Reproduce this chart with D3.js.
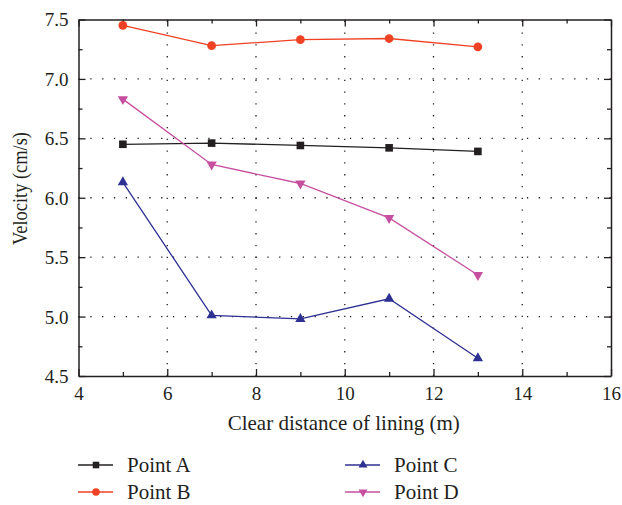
<!DOCTYPE html>
<html>
<head>
<meta charset="utf-8">
<script src="https://cdn.jsdelivr.net/npm/d3@7"></script>
<style>
  html, body { margin: 0; padding: 0; background: #fff; }
  svg { display: block; }
</style>
</head>
<body>
<svg id="chart" width="622" height="505"></svg>
<script>
// Clear distance of lining (m)
const distances = [5, 7, 9, 11, 13];

// Velocity (cm/s) at each monitoring point
const pointA = [6.45, 6.46, 6.44, 6.42, 6.39];
const pointB = [7.45, 7.28, 7.33, 7.34, 7.27];
const pointC = [6.13, 5.01, 4.98, 5.15, 4.65];
const pointD = [6.83, 6.28, 6.12, 5.83, 5.35];

const seriesNames = ["Point A", "Point B", "Point C", "Point D"];
const xTicks = [4, 6, 8, 10, 12, 14, 16];
const yTicks = [4.5, 5.0, 5.5, 6.0, 6.5, 7.0, 7.5];

const FONT = '"Liberation Serif", "Times New Roman", serif';
const INK = "#231f20";

const series = [
  { name: seriesNames[0], values: pointA, color: "#231f20", symbol: d3.symbolSquare, size: 58, rot: 0 },
  { name: seriesNames[1], values: pointB, color: "#ef4123", symbol: d3.symbolCircle, size: 60, rot: 0 },
  { name: seriesNames[2], values: pointC, color: "#2e3192", symbol: d3.symbolTriangle, size: 46, rot: 0 },
  { name: seriesNames[3], values: pointD, color: "#c6509f", symbol: d3.symbolTriangle, size: 46, rot: 180 }
];

const svg = d3.select("#chart").attr("font-family", FONT);
const plot = { left: 78.5, right: 611, top: 19.5, bottom: 376 };

const x = d3.scaleLinear().domain([4, 16]).range([plot.left, plot.right]);
const y = d3.scaleLinear().domain([4.5, 7.5]).range([plot.bottom, plot.top]);

// Dotted grid at major ticks
const grid = svg.append("g").attr("stroke", INK).attr("stroke-width", 1.3)
  .attr("stroke-dasharray", "1.3 10.5");
xTicks.slice(1, -1).forEach(t => {
  grid.append("line").attr("x1", x(t)).attr("x2", x(t))
    .attr("y1", plot.bottom).attr("y2", plot.top);
});
yTicks.slice(1, -1).forEach(t => {
  grid.append("line").attr("x1", plot.left).attr("x2", plot.right)
    .attr("y1", y(t)).attr("y2", y(t));
});

// Frame axes, ticks pointing inward on all four sides
const xMinor = d3.range(5, 16, 2);
const yMinor = d3.range(4.75, 7.5, 0.5);

function addAxis(axisFn, scale, ticks, minor, transform, labels) {
  const g = svg.append("g").attr("transform", transform);
  g.call(axisFn(scale).tickValues(ticks).tickSizeInner(-7).tickSizeOuter(0)
    .tickFormat(labels ? (d => labels(d)) : ""));
  g.append("g").call(axisFn(scale).tickValues(minor).tickSizeInner(-4).tickSizeOuter(0).tickFormat(""))
    .select(".domain").remove();
  g.attr("font-family", FONT);
  g.selectAll("g").attr("font-family", FONT);
  g.selectAll("line").attr("stroke", INK).attr("stroke-width", 1.3);
  g.selectAll(".domain").attr("stroke", INK).attr("stroke-width", 1.5);
  g.selectAll("text").style("font-family", FONT).style("font-size", "19px").attr("fill", INK);
  return g;
}

const gx = addAxis(d3.axisBottom, x, xTicks, xMinor, `translate(0,${plot.bottom})`, d => d3.format("d")(d));
gx.selectAll(".tick text").attr("y", 24).attr("dy", 0);
addAxis(d3.axisTop, x, xTicks, xMinor, `translate(0,${plot.top})`, null);
const gy = addAxis(d3.axisLeft, y, yTicks, yMinor, `translate(${plot.left},0)`, d => d3.format(".1f")(d));
gy.selectAll(".tick text").attr("x", -10).attr("dy", "0.34em");
addAxis(d3.axisRight, y, yTicks, yMinor, `translate(${plot.right},0)`, null);

// Axis titles
svg.append("text").attr("x", (plot.left + plot.right) / 2 - 1).attr("y", 430)
  .attr("text-anchor", "middle").style("font-family", FONT).style("font-size", "21px").attr("fill", INK)
  .text("Clear distance of lining (m)");
svg.append("text")
  .attr("transform", `translate(27,188.5) rotate(-90)`)
  .attr("text-anchor", "middle").style("font-family", FONT).style("font-size", "20px").attr("fill", INK)
  .attr("textLength", 113).attr("lengthAdjust", "spacingAndGlyphs")
  .text("Velocity (cm/s)");

// Series lines and markers
const line = d3.line().x((d, i) => x(distances[i])).y(d => y(d));
series.forEach(s => {
  svg.append("path").datum(s.values).attr("d", line)
    .attr("fill", "none").attr("stroke", s.color).attr("stroke-width", 1.3);
  svg.append("g").selectAll("path").data(s.values).join("path")
    .attr("d", d3.symbol().type(s.symbol).size(s.size))
    .attr("transform", (d, i) => `translate(${x(distances[i])},${y(d)}) rotate(${s.rot})`)
    .attr("fill", s.color);
});

// Legend in two columns
const legendPos = [
  { lx: 78, ty: 465 }, { lx: 78, ty: 492 },
  { lx: 345, ty: 465 }, { lx: 345, ty: 492 }
];
series.forEach((s, i) => {
  const p = legendPos[i];
  const g = svg.append("g");
  g.append("line").attr("x1", p.lx).attr("x2", p.lx + 35).attr("y1", p.ty).attr("y2", p.ty)
    .attr("stroke", s.color).attr("stroke-width", 1.3);
  g.append("path").attr("d", d3.symbol().type(s.symbol).size(s.size * 0.75))
    .attr("transform", `translate(${p.lx + 18},${p.ty}) rotate(${s.rot})`)
    .attr("fill", s.color);
  g.append("text").attr("x", p.lx + 49).attr("y", p.ty + 7)
    .style("font-family", FONT).style("font-size", "21px").attr("fill", INK)
    .text(s.name);
});
</script>
</body>
</html>
